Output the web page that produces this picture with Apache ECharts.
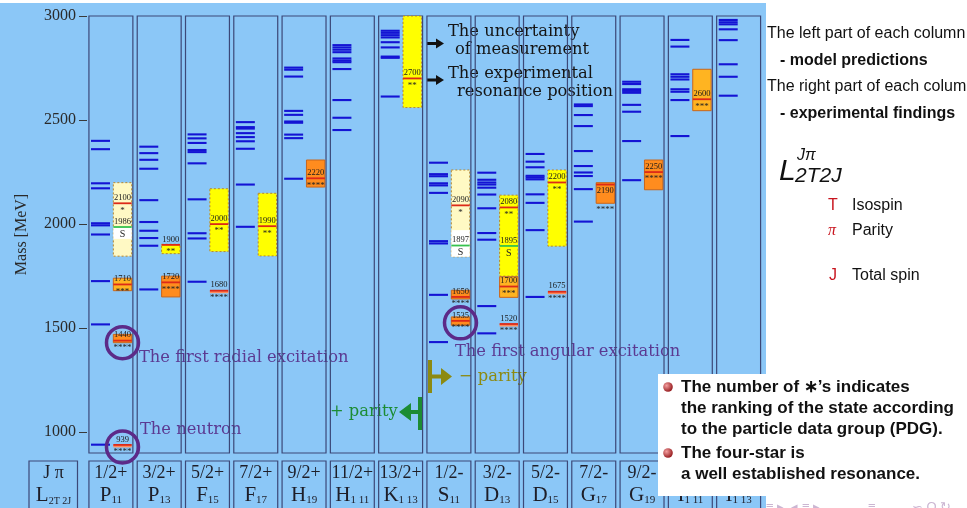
<!DOCTYPE html>
<html>
<head>
<meta charset="utf-8">
<script src="https://cdn.jsdelivr.net/npm/echarts@6/dist/echarts.min.js"></script>
<style>
  html, body { margin: 0; padding: 0; background: #ffffff; }
  #chart { width: 967px; height: 508px; }
</style>
</head>
<body>
<div id="chart"></div>
<script>
// Nucleon excitation spectrum: quark-model states (left half of each column)
// against PDG resonances (right half), grouped by partial wave L_{2T 2J}.

const massMin = 900;
const massMax = 3000;
const yTicks = [1000, 1500, 2000, 2500, 3000];

// Partial waves (column headers)
const spinParity = ['1/2+', '3/2+', '5/2+', '7/2+', '9/2+', '11/2+', '13/2+',
                    '1/2-', '3/2-', '5/2-', '7/2-', '9/2-', '11/2-', '13/2-'];
const waveLetter = ['P', 'P', 'F', 'F', 'H', 'H', 'K', 'S', 'D', 'D', 'G', 'G', 'I', 'I'];
const waveIndex  = ['11', '13', '15', '17', '19', '1 11', '1 13',
                    '11', '13', '15', '17', '19', '1 11', '1 13'];

// Model predictions [MeV], one list per partial wave
const modelP11  = [2400, 2360, 2196, 2172, 2004, 1994, 1950, 1726, 1518, 940];
const modelP13  = [2372, 2341, 2309, 2266, 2115, 2010, 1968, 1933, 1896, 1686];
const modelF15  = [2431, 2412, 2390, 2356, 2346, 2292, 2119, 1956, 1931, 1723];
const modelF17  = [2490, 2466, 2459, 2437, 2418, 2398, 2362, 2190, 1987];
const modelH19  = [2752, 2742, 2709, 2544, 2525, 2493, 2487, 2430, 2413, 2218];
const modelH111 = [2860, 2849, 2838, 2826, 2796, 2786, 2778, 2745, 2596, 2511, 2452];
const modelK113 = [2929, 2919, 2908, 2897, 2874, 2849, 2805, 2799, 2613];
const modelS11  = [2295, 2240, 2230, 2196, 2186, 2150, 1918, 1907, 1660, 1433];
const modelD13  = [2247, 2213, 2200, 2190, 2175, 2142, 2076, 1957, 1925, 1606, 1475];
const modelD15  = [2337, 2300, 2273, 2232, 2224, 2215, 2143, 2102, 1971, 1650];
const modelG17  = [2575, 2567, 2524, 2471, 2351, 2279, 2248, 2231, 2168, 2012];
const modelG19  = [2684, 2673, 2648, 2640, 2631, 2573, 2540, 2399, 2211];
const modelI111 = [2885, 2853, 2720, 2708, 2695, 2648, 2636, 2596, 2423];
const modelI113 = [2981, 2970, 2960, 2936, 2884, 2768, 2708, 2617];
const modelStates = [modelP11, modelP13, modelF15, modelF17, modelH19, modelH111, modelK113,
                     modelS11, modelD13, modelD15, modelG17, modelG19, modelI111, modelI113];

// Experimental resonances: column, pole position, uncertainty band, PDG rating ('S' = SAPHIR)
const expColumn = [0, 0, 0, 0, 0, 1, 1, 2, 2, 3, 4, 6, 7, 7, 7, 7, 8, 8, 8, 8, 9, 9, 10, 11, 12];
const expMass   = [2100, 1986, 1710, 1440, 939, 1720, 1900, 2000, 1680, 1990, 2220, 2700,
                   2090, 1897, 1650, 1535, 2080, 1895, 1700, 1520, 2200, 1675, 2190, 2250, 2600];
const expLow    = [1846, 1929, 1680, 1430, 939, 1650, 1858, 1868, 1680, 1847, 2178, 2560,
                   1843, 1843, 1640, 1514, 1750, 1895, 1648, 1520, 1894, 1675, 2100, 2165, 2545];
const expHigh   = [2199, 1986, 1740, 1470, 939, 1750, 1903, 2170, 1680, 2148, 2308, 3000,
                   2260, 1971, 1682, 1554, 2139, 1895, 1747, 1520, 2260, 1675, 2199, 2308, 2744];
const expRating = [1, 'S', 3, 4, 4, 4, 2, 2, 4, 2, 4, 2,
                   1, 'S', 4, 4, 2, 'S', 3, 4, 2, 4, 4, 4, 3];
const expLabel  = expMass.map(String);

// Circled states
const circleColumn = [0, 0, 7];
const circleMass   = [939, 1440, 1535];

const SERIF = '"Liberation Serif", "DejaVu Serif", serif';
const BOOK = '"DejaVu Serif", "Liberation Serif", serif';
const SANS = '"Liberation Sans", Arial, sans-serif';

const bandFill = { 4: '#ff8c1e', 3: '#ffb421', 2: '#ffff00', 1: '#fff9c4', S: '#ffffff' };

const chart = echarts.init(document.getElementById('chart'));

const modelData = [];
modelStates.forEach((list, c) => list.forEach(m => modelData.push([c, m])));

function renderColumn(params, api) {
  const i = api.value(0);
  const tl = api.coord([i + 0.04, massMax]);
  const br = api.coord([i + 0.95, massMin]);
  const w = br[0] - tl[0];
  const cx = tl[0] + w / 2;
  const yLab = br[1] + 8;
  return {
    type: 'group',
    children: [
      { type: 'rect', shape: { x: tl[0], y: tl[1], width: w, height: br[1] - tl[1] },
        style: { fill: 'none', stroke: '#3c4878', lineWidth: 1.2 } },
      { type: 'rect', shape: { x: tl[0], y: yLab, width: w, height: 60 },
        style: { fill: 'none', stroke: '#3c4878', lineWidth: 1.2 } },
      { type: 'text', style: {
          x: cx, y: yLab + 2, align: 'center', verticalAlign: 'top',
          text: '{a|' + spinParity[i] + '}\n{b|' + waveLetter[i] + '}{s|' + waveIndex[i] + '}',
          rich: {
            a: { fontFamily: SERIF, fontSize: 18, lineHeight: 21, fill: '#1e1e28' },
            b: { fontFamily: SERIF, fontSize: 21, lineHeight: 22, fill: '#1e1e28' },
            s: { fontFamily: SERIF, fontSize: 11, lineHeight: 14, verticalAlign: 'bottom', fill: '#1e1e28' }
          }
        } }
    ]
  };
}

function renderModel(params, api) {
  const c = api.value(0), m = api.value(1);
  const p0 = api.coord([c + 0.083, m]);
  const p1 = api.coord([c + 0.476, m]);
  return { type: 'line', shape: { x1: p0[0], y1: p0[1], x2: p1[0], y2: p1[1] },
           style: { stroke: '#1414d4', lineWidth: 2.1 } };
}

function renderResonance(params, api) {
  const k = params.dataIndex;
  const c = api.value(0), m = api.value(1), lo = api.value(2), hi = api.value(3);
  const r = expRating[k];
  const xl = api.coord([c + 0.545, m])[0];
  const xr = api.coord([c + 0.926, m])[0];
  const yl = api.coord([c, m])[1];
  const yt = api.coord([c, hi])[1];
  const yb = api.coord([c, lo])[1];
  const w = xr - xl, cx = xl + w / 2;
  const isS = r === 'S';
  const kids = [];
  if (yb - yt > 1) {
    kids.push({ type: 'rect', shape: { x: xl, y: yt, width: w, height: yb - yt },
      style: isS ? { fill: '#ffffff', stroke: 'none' }
                 : { fill: bandFill[r], stroke: r >= 3 ? '#c8661c' : '#b8862c', lineWidth: 1,
                     lineDash: r >= 3 ? null : [2, 2] } });
  } else if (!isS) {
    kids.push({ type: 'rect', shape: { x: xl, y: yl, width: w, height: 2.5 },
      style: { fill: '#ff8a5a' } });
  }
  kids.push({ type: 'line', shape: { x1: xl, y1: yl, x2: xr, y2: yl },
    style: { stroke: isS ? '#37c24e' : '#dc2a18', lineWidth: 1.8 } });

  let labelY = yl - 5.5;
  let markY = yl + 7;
  if (yl - yt < 4 && yb - yl > 16) {
    labelY = yl + 6;
    markY = yb + 6;
  }
  kids.push({ type: 'text', style: { x: cx, y: labelY, text: expLabel[k], align: 'center',
    verticalAlign: 'middle', fontFamily: SERIF, fontSize: 8.5, fill: '#1a1a1a' } });
  kids.push({ type: 'text', style: { x: cx, y: markY, text: isS ? 'S' : '*'.repeat(r),
    align: 'center', verticalAlign: 'middle', fontFamily: SERIF,
    fontSize: isS ? 10 : 9, fill: '#222' } });
  return { type: 'group', children: kids };
}

function renderCircle(params, api) {
  const c = api.value(0), m = api.value(1);
  const p = api.coord([c + 0.735, m]);
  return { type: 'circle', shape: { cx: p[0], cy: p[1] + 2, r: 16 },
           style: { fill: 'none', stroke: '#5c2a88', lineWidth: 3.5 } };
}

const annot = (text, x, y, fill) => ({
  type: 'text', z: 1, silent: true,
  style: { text, x, y, fill, font: '16.3px ' + BOOK, textVerticalAlign: 'middle' }
});

const panelText = (text, x, y, opts) => ({
  type: 'text', z: 101, silent: true,
  style: Object.assign({ text, x, y, fill: '#111', textVerticalAlign: 'middle',
                         font: '16px ' + SANS }, opts || {})
});

const bullet = (x, y) => ({
  type: 'circle', z: 101, silent: true, shape: { cx: x, cy: y, r: 4.8 },
  style: { fill: new echarts.graphic.RadialGradient(0.35, 0.35, 0.75,
    [{ offset: 0, color: '#f4a0a0' }, { offset: 1, color: '#8c0c10' }]) }
});

const NOTE = 'bold 17px ' + SANS;

const option = {
  animation: false,
  backgroundColor: '#8bc7f7',
  grid: { left: 87, right: 204, top: 16, bottom: 55 },
  xAxis: { type: 'value', min: 0, max: 14, show: false },
  yAxis: {
    type: 'value', min: massMin, max: massMax, offset: 7,
    name: 'Mass [MeV]', nameLocation: 'middle', nameGap: 50,
    nameTextStyle: { fontFamily: SERIF, fontSize: 16, color: '#2a2a2a' },
    axisLine: { show: false },
    splitLine: { show: false },
    axisTick: { show: true, length: 8, customValues: yTicks,
                lineStyle: { color: '#3a3a3a', width: 1 } },
    axisLabel: { customValues: yTicks, margin: 4, fontFamily: SERIF, fontSize: 16, color: '#2a2a2a',
                 formatter: v => String(v) }
  },
  series: [
    { type: 'custom', renderItem: renderColumn, silent: true, z: 3,
      data: spinParity.map((_, i) => [i]) },
    { type: 'custom', renderItem: renderModel, silent: true, z: 4, data: modelData },
    { type: 'custom', renderItem: renderResonance, silent: true, z: 5,
      data: expMass.map((m, k) => [expColumn[k], m, expLow[k], expHigh[k]]) },
    { type: 'custom', renderItem: renderCircle, silent: true, z: 6,
      data: circleMass.map((m, k) => [circleColumn[k], m]) }
  ],
  graphic: [
    // white page area to the right of the spectrum
    { type: 'rect', z: 50, silent: true, shape: { x: 766, y: 0, width: 201, height: 508 },
      style: { fill: '#ffffff' } },
    { type: 'rect', z: 50, silent: true, shape: { x: 0, y: 0, width: 767, height: 3 },
      style: { fill: '#ffffff' } },

    // header cell of the label row
    { type: 'rect', z: 3, silent: true, shape: { x: 29, y: 461, width: 48.5, height: 60 },
      style: { fill: 'none', stroke: '#3c4878', lineWidth: 1.2 } },
    { type: 'text', z: 3, silent: true, style: {
        x: 53.5, y: 463, align: 'center', verticalAlign: 'top',
        text: '{a|J π}\n{b|L}{s|2T 2J}',
        rich: {
          a: { fontFamily: SERIF, fontSize: 18, lineHeight: 21, fill: '#1e1e28' },
          b: { fontFamily: SERIF, fontSize: 21, lineHeight: 22, fill: '#1e1e28' },
          s: { fontFamily: SERIF, fontSize: 10, lineHeight: 13, verticalAlign: 'bottom', fill: '#1e1e28' }
        } } },

    // annotations on the spectrum
    annot('The uncertainty', 448, 32, '#151515'),
    annot('of measurement', 455, 50, '#151515'),
    annot('The experimental', 448, 74, '#151515'),
    annot('resonance position', 457, 92, '#151515'),
    { type: 'polygon', z: 1, silent: true, shape: { points: [[427, 42], [436, 42], [436, 38.5], [444, 43.5], [436, 48.5], [436, 45], [427, 45]] },
      style: { fill: '#111' } },
    { type: 'polygon', z: 1, silent: true, shape: { points: [[427, 78.5], [436, 78.5], [436, 75], [444, 80], [436, 85], [436, 81.5], [427, 81.5]] },
      style: { fill: '#111' } },
    annot('The first radial excitation', 139, 358, '#5b3a92'),
    annot('The neutron', 140, 430, '#5b3a92'),
    annot('The first angular excitation', 455, 352, '#5b3a92'),
    annot('− parity', 459, 377, '#8c8a12'),
    { type: 'rect', z: 1, silent: true, shape: { x: 428, y: 360, width: 4, height: 33 },
      style: { fill: '#8c8a12' } },
    { type: 'polygon', z: 1, silent: true, shape: { points: [[431, 374.5], [441, 374.5], [441, 368], [452, 376.5], [441, 385], [441, 378.5], [431, 378.5]] },
      style: { fill: '#8c8a12' } },
    annot('+ parity', 330, 412, '#1c8c34'),
    { type: 'rect', z: 1, silent: true, shape: { x: 418, y: 397, width: 4.5, height: 33 },
      style: { fill: '#1c8c34' } },
    { type: 'polygon', z: 1, silent: true, shape: { points: [[419, 410], [411, 410], [411, 403], [399, 412], [411, 421], [411, 414], [419, 414]] },
      style: { fill: '#1c8c34' } },

    // legend on the right
    panelText('The left part of each column', 767, 34),
    panelText('- model predictions', 780, 61, { font: 'bold 16px ' + SANS }),
    panelText('The right part of each column', 767, 87),
    panelText('- experimental findings', 780, 114, { font: 'bold 16px ' + SANS }),
    panelText('L', 779, 172, { font: 'italic 30px ' + SANS }),
    panelText('Jπ', 797, 156, { font: 'italic 16px ' + SANS }),
    panelText('2T2J', 795, 176, { font: 'italic 21px ' + SANS }),
    panelText('T', 828, 206, { fill: '#c8141e' }),
    panelText('Isospin', 852, 206),
    panelText('π', 828, 231, { fill: '#c8141e', font: 'italic 16px ' + SERIF }),
    panelText('Parity', 852, 231),
    panelText('J', 829, 276, { fill: '#c8141e' }),
    panelText('Total spin', 852, 276),

    // notes box
    { type: 'rect', z: 100, silent: true, shape: { x: 658, y: 374, width: 309, height: 122 },
      style: { fill: '#ffffff' } },
    bullet(668, 387),
    panelText('The number of ∗\u2019s indicates', 681, 387, { font: NOTE }),
    panelText('the ranking of the state according', 681, 408, { font: NOTE }),
    panelText('to the particle data group (PDG).', 681, 429, { font: NOTE }),
    bullet(668, 453),
    panelText('The four-star is', 681, 453, { font: NOTE }),
    panelText('a well established resonance.', 681, 474, { font: NOTE }),

    // navigation symbols along the page foot
    panelText('≡ ▸  ◂ ≡ ▸', 766, 507, { fill: '#cbb6d2', font: '13px ' + SANS }),
    panelText('≡', 868, 507, { fill: '#cbb6d2', font: '13px ' + SANS }),
    panelText('∽ Q ↻', 912, 507, { fill: '#cbb6d2', font: '13px ' + SANS })
  ]
};

chart.setOption(option);
</script>
</body>
</html>
